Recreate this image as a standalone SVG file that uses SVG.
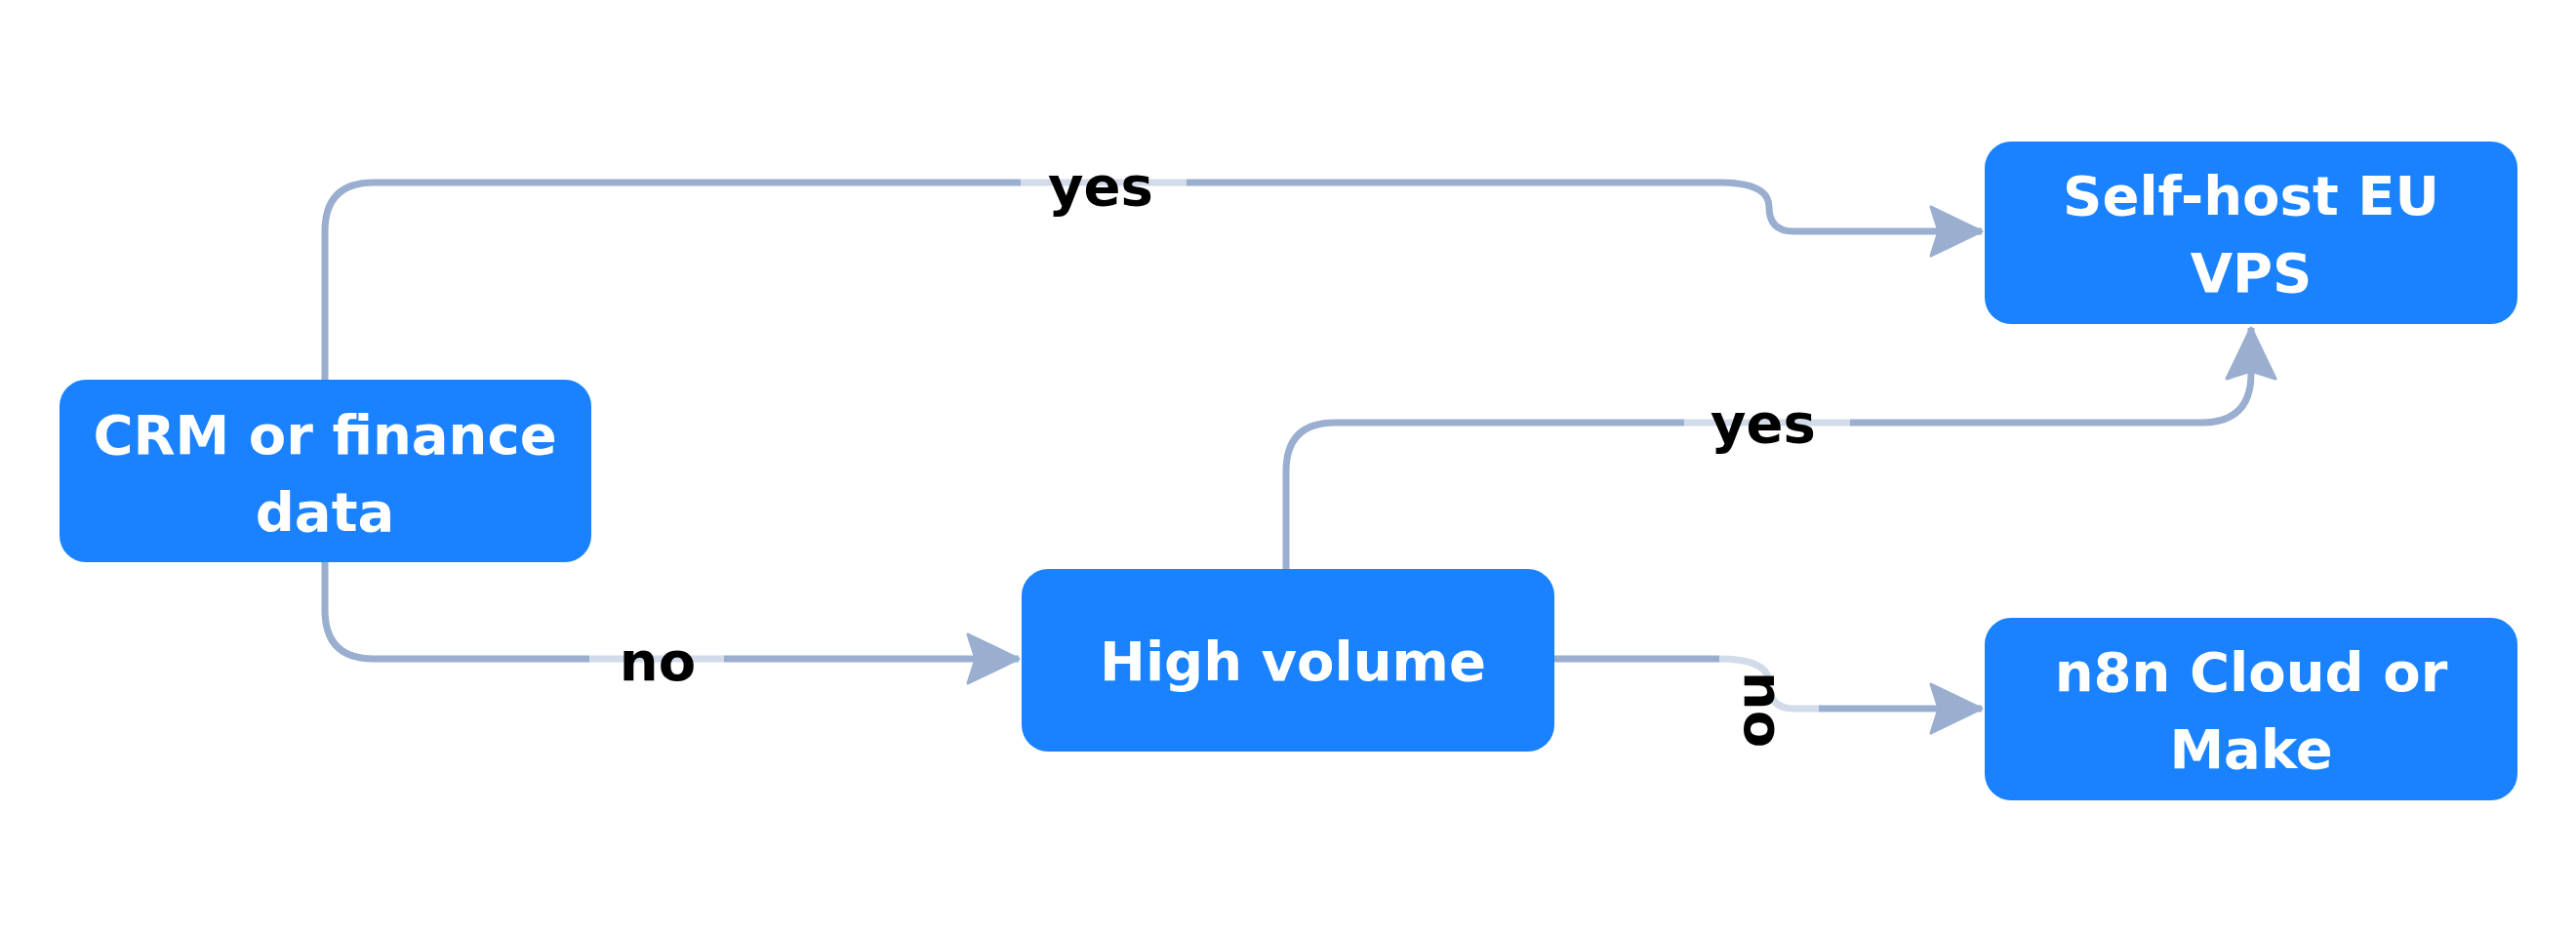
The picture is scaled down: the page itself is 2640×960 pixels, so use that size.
<svg xmlns="http://www.w3.org/2000/svg" width="2640" height="960" viewBox="0 0 2640 960">
<style>
.n{fill:#1a82ff}
.t{fill:#fff;font-family:"DejaVu Sans",sans-serif;font-weight:bold;font-size:56px;text-anchor:middle}
.c{fill:none;stroke:#9aafd0;stroke-width:7}
.l{font-family:"DejaVu Sans",sans-serif;font-weight:bold;font-size:56px;text-anchor:middle;fill:#000;dominant-baseline:central}
.bg{fill:#fff;opacity:0.55}
</style>
<defs><marker id="a" markerWidth="60" markerHeight="60" refX="54" refY="27" orient="auto" markerUnits="userSpaceOnUse"><path d="M2,2 L54,27 L2,52 L10,27 Z" fill="#9aafd0" stroke="#9aafd0" stroke-width="3" stroke-linejoin="round"/></marker></defs>
<rect width="2640" height="960" fill="#fff"/>
<g id="connectors">
<path class="c" d="M333,389 V237 Q333,187 383,187 H1763 Q1813,187 1813,212 Q1813,237 1838,237 H2031" marker-end="url(#a)"/>
<path class="c" d="M1318,583 V483 Q1318,433 1368,433 H2256 Q2307,433 2307,383 V336" marker-end="url(#a)"/>
<path class="c" d="M333,576 V625 Q333,675 383,675 H1044" marker-end="url(#a)"/>
<path class="c" d="M1593,675 H1763 Q1813,675 1813,700 Q1813,726 1838,726 H2031" marker-end="url(#a)"/>
<rect class="bg" x="1046" y="160" width="170" height="60"/>
<text class="l" x="1128" y="190">yes</text>
<rect class="bg" x="1726" y="406" width="170" height="60"/>
<text class="l" x="1807" y="433">yes</text>
<rect class="bg" x="604" y="645" width="138" height="60"/>
<text class="l" x="674" y="677">no</text>
<rect class="bg" x="1762" y="660" width="102" height="90"/>
<text class="l" x="1807" y="727" transform="rotate(90 1807 727)">no</text>
</g>
<g id="crm"><rect class="n" x="61" y="389" width="545" height="187" rx="27"/><text class="t" x="333" y="465">CRM or finance</text><text class="t" x="333" y="544">data</text></g>
<g id="selfhost"><rect class="n" x="2034" y="145" width="546" height="187" rx="27"/><text class="t" x="2307" y="220">Self-host EU</text><text class="t" x="2307" y="299">VPS</text></g>
<g id="high"><rect class="n" x="1047" y="583" width="546" height="187" rx="27"/><text class="t" x="1325" y="697">High volume</text></g>
<g id="n8n"><rect class="n" x="2034" y="633" width="546" height="187" rx="27"/><text class="t" x="2307" y="708">n8n Cloud or</text><text class="t" x="2307" y="787">Make</text></g>
</svg>
